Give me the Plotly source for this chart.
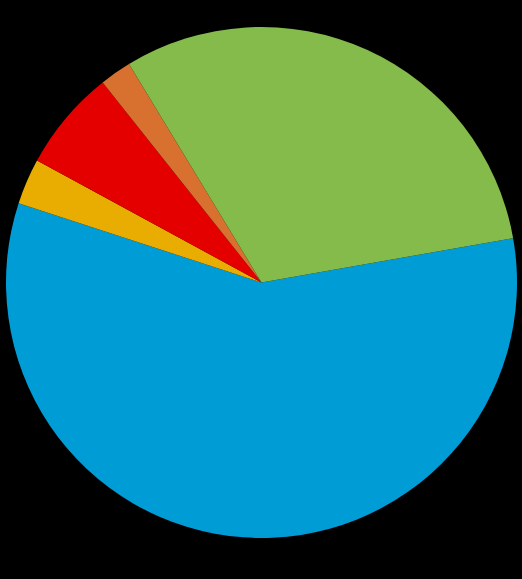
import plotly.graph_objects as go

labels = ["Blue", "Yellow", "Red", "Orange", "Green"]
values = [57.8, 2.9, 6.4, 2.0, 30.9]
colors = ["#009CD6", "#E8AD00", "#E50000", "#D8712F", "#84BB4B"]

fig = go.Figure(
    go.Pie(
        labels=labels,
        values=values,
        sort=False,
        direction="clockwise",
        rotation=80,
        textinfo="none",
        hoverinfo="label+percent",
        marker=dict(colors=colors, line=dict(width=0)),
    )
)

fig.update_layout(
    width=522,
    height=579,
    showlegend=False,
    paper_bgcolor="black",
    plot_bgcolor="black",
    margin=dict(l=6, r=5, t=27, b=41),
)

# page body has a default margin; remove it so the figure sits at 0,0
fig.write_html(
    "out.html",
    config={"displayModeBar": False},
    post_script="document.body.style.margin='0';document.body.style.background='black';",
)
